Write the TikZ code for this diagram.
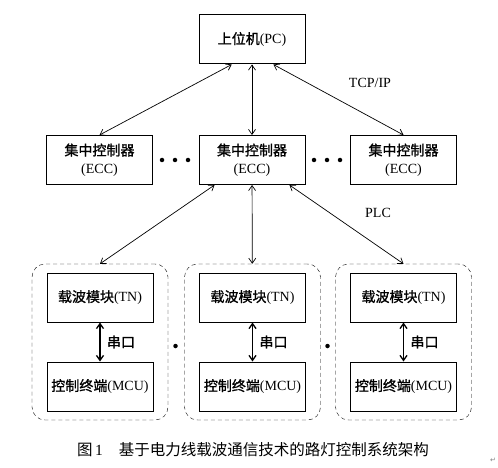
\documentclass[tikz,border=0pt]{standalone}
\usepackage{fontspec}
\setmainfont{Liberation Serif}
\newfontfamily\cjk[FakeBold=1.2]{Noto Sans CJK SC}
\newfontfamily\cjkcap{Noto Sans CJK SC}
\newfontfamily\symfont{DejaVu Sans}
\usetikzlibrary{positioning,arrows.meta,calc}
\newcommand{\zh}[1]{{\cjk #1}}

\begin{document}
\begin{tikzpicture}[x=1pt,y=-1pt]
  \tikzset{
    box/.style={draw, line width=1pt, minimum width=106pt, minimum height=49pt,
      inner sep=0pt, align=center, font=\fontsize{14}{18}\selectfont},
    grp/.style={draw, dashed, dash pattern=on 4pt off 3pt, rounded corners=13pt,
      minimum width=136pt, minimum height=156pt, inner sep=0pt},
    link/.style={{Straight Barb[length=5pt,width=7pt]}-{Straight Barb[length=5pt,width=7pt]}, line width=0.7pt},
    ser/.style={link, line width=1.3pt},
    dotc/.style={fill, circle, inner sep=0pt, minimum size=4.5pt},
    lbl/.style={font=\fontsize{14}{16}\selectfont},
  }
  \useasboundingbox (0,0) rectangle (498,468);
  % host computer
  \node[box] (pc) at (252,39.5) {\zh{上位机}(PC)};
  % concentrators
  \node[box] (e1) at (99.5,160) {\zh{集中控制器}\\(ECC)};
  \node[box] (e2) at (252,160) {\zh{集中控制器}\\(ECC)};
  \node[box] (e3) at (403.5,160) {\zh{集中控制器}\\(ECC)};
  \foreach \x in {162,175,188,314,327,340} {
    \node[dotc] (d\x) at (\x,160) {}; }
  % terminal groups
  \foreach \i/\x in {1/100,2/252.5,3/403.5} {
    \node[grp] (g\i) at (\x,342) {};
    \node[box] (tn\i) at (\x,297.5) {\zh{载波模块}(TN)};
    \node[box] (mcu\i) at (\x,386.5) {\zh{控制终端}(MCU)};
    \draw[ser] (tn\i) -- node[lbl, right=3pt] {\zh{串口}} (mcu\i);
  }
  \node[dotc] (gd1) at (175.5,346) {};
  \node[dotc] (gd2) at (327.5,346) {};
  % links
  \draw[link] ($(pc.south west)!0.31!(pc.south east)$) -- (e1.north);
  \draw[link] (pc) -- (e2);
  \draw[link] ($(pc.south west)!0.70!(pc.south east)$) -- (e3.north);
  \draw[link] ($(e2.south west)!0.15!(e2.south east)$) -- (g1.north);
  \draw[link] (e2) -- (g2);
  \draw[link] ($(e2.south west)!0.85!(e2.south east)$) -- (g3.north);
  \node[lbl] (tcp) at (370,83) {TCP/IP};
  \node[lbl] (plc) at (378,213) {PLC};
  % caption
  \node[font=\fontsize{15.5}{18}\selectfont] (cap) at (253,450)
    {{\cjkcap 图}\,1\hspace{16pt}{\cjkcap 基于电力线载波通信技术的路灯控制系统架构}};
  \node[font=\symfont\fontsize{7}{8}\selectfont, text=gray] (ret) at (493,460) {↵};
\end{tikzpicture}
\end{document}
